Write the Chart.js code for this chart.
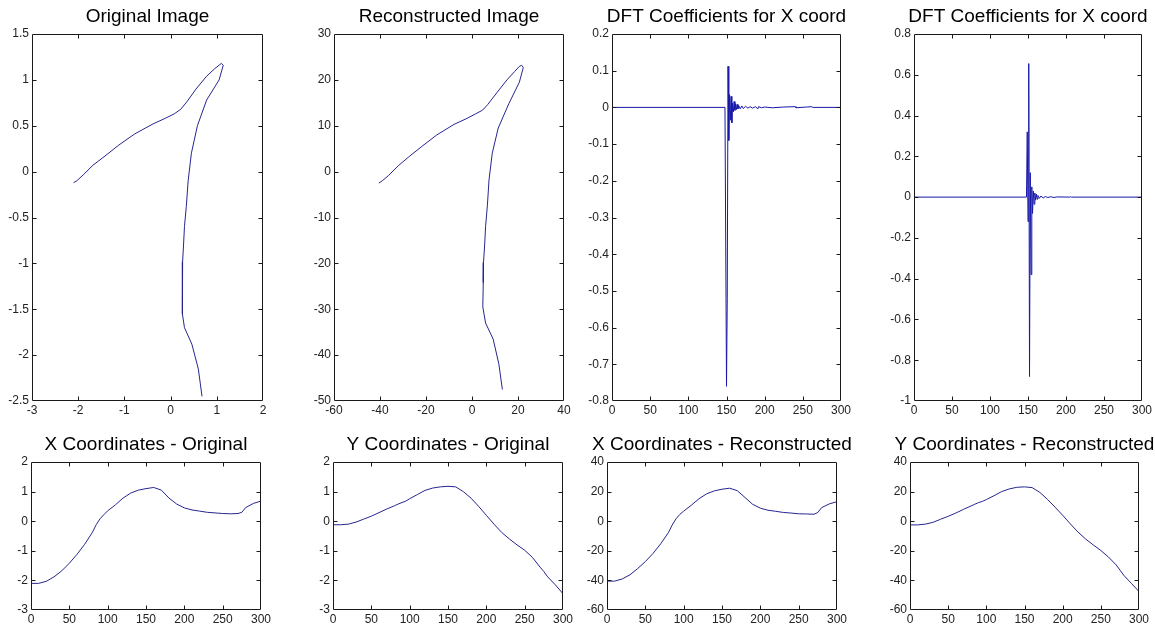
<!DOCTYPE html>
<html><head><meta charset="utf-8">
<script src="https://cdn.jsdelivr.net/npm/chart.js@4.4.1/dist/chart.umd.min.js"></script>
<style>
html,body{margin:0;padding:0;background:#fff;overflow:hidden;width:1155px;height:628px;position:relative;}
canvas{position:absolute;}
</style></head><body>
<script>
// ---- data ----
const t     = [0,10,20,30,40,50,60,70,80,85,90,95,100,110,120,130,140,150,160,170,180,190,200,210,220,230,240,250,260,270,275,280,290,300];
const xOrig = [-2.10,-2.10,-2.03,-1.88,-1.68,-1.42,-1.12,-0.78,-0.38,-0.12,0.08,0.22,0.35,0.55,0.78,0.95,1.05,1.10,1.14,1.05,0.78,0.58,0.45,0.38,0.34,0.30,0.28,0.26,0.25,0.26,0.30,0.46,0.60,0.68];
const yOrig = [-0.12,-0.12,-0.10,-0.03,0.07,0.17,0.29,0.41,0.52,0.58,0.63,0.68,0.76,0.90,1.04,1.12,1.16,1.18,1.16,1.00,0.78,0.50,0.20,-0.10,-0.38,-0.60,-0.80,-0.98,-1.22,-1.55,-1.70,-1.88,-2.15,-2.45];
const xRec  = [-40.5,-40.5,-39.0,-36.2,-32.0,-27.3,-21.8,-15.3,-7.8,-2.6,1.6,4.6,6.8,10.8,15.2,18.5,20.5,21.6,22.3,20.6,16.0,11.4,8.8,7.4,6.7,5.9,5.5,5.0,4.9,4.7,5.9,9.2,11.7,13.2];
const yRec  = [-2.5,-2.5,-2.0,-0.8,1.3,3.3,5.5,8.0,10.3,11.5,12.6,13.4,14.6,17.2,20.0,21.8,22.9,23.2,22.7,19.5,14.8,9.5,4.0,-1.8,-7.3,-12.0,-16.0,-19.8,-24.2,-29.5,-33.0,-36.5,-42.0,-47.5];
const dftXIdx = [0,148,149,150,151,152,153,154,155,156,157,158,159,160,161,162,163,164,165,166,168,170,172,175,178,181,184,188,191,192,196,200,210,225,240,241,255,262,263,300];
const dftXVal = [0,0,-0.38,-0.76,-0.52,0.112,-0.09,0.035,-0.035,0.03,-0.042,0.012,-0.012,0.016,-0.008,0.01,-0.006,0.008,-0.004,0.005,-0.004,0.004,-0.003,0.003,-0.002,0.002,-0.002,0.002,-0.004,0.002,-0.001,0.001,-0.001,0.001,0.002,-0.001,0.001,0.002,0,0];
const dftYIdx = [0,148,149,150,151,152,153,154,155,156,157,158,159,160,161,162,163,165,167,170,173,176,180,184,188,205,206,207,300];
const dftYVal = [0,0,0.32,-0.12,0.655,-0.88,0.12,-0.38,0.05,-0.08,0.03,-0.035,0.02,-0.015,0.015,-0.01,0.008,-0.006,0.005,-0.004,0.003,-0.002,0.002,-0.002,0.001,0,0.002,0,0];

// ---- tick labels ----
const ticksImgX  = [-3,-2,-1,0,1,2];
const ticksImgY  = [-2.5,-2,-1.5,-1,-0.5,0,0.5,1,1.5];
const ticksRecX  = [-60,-40,-20,0,20,40];
const ticksRecY  = [-50,-40,-30,-20,-10,0,10,20,30];
const ticksT     = [0,50,100,150,200,250,300];
const ticksDftX  = [-0.8,-0.7,-0.6,-0.5,-0.4,-0.3,-0.2,-0.1,0,0.1,0.2];
const ticksDftY  = [-1,-0.8,-0.6,-0.4,-0.2,0,0.2,0.4,0.6,0.8];
const ticksOrigC = [-3,-2,-1,0,1,2];
const ticksRecC  = [-60,-40,-20,0,20,40];

const titles = ['Original Image','Reconstructed Image','DFT Coefficients for X coord','DFT Coefficients for X coord',
  'X Coordinates - Original','Y Coordinates - Original','X Coordinates - Reconstructed','Y Coordinates - Reconstructed'];

const pairs = (a,b)=>a.map((v,i)=>({x:v,y:b[i]}));
const CURVE = '#25258f', DFT = '#1818a8';
const FONT = "'Liberation Sans', Arial, sans-serif";

const panels = [
  {rect:[32,34,263,401],  data:pairs(xOrig,yOrig), xt:ticksImgX, yt:ticksImgY, c:CURVE},
  {rect:[334,34,564,401], data:pairs(xRec,yRec),   xt:ticksRecX, yt:ticksRecY, c:CURVE},
  {rect:[612,34,841,401], data:pairs(dftXIdx,dftXVal), xt:ticksT, yt:ticksDftX, c:DFT},
  {rect:[914,34,1142,401],data:pairs(dftYIdx,dftYVal), xt:ticksT, yt:ticksDftY, c:DFT},
  {rect:[31,462,261,610], data:pairs(t,xOrig), xt:ticksT, yt:ticksOrigC, c:CURVE},
  {rect:[333,462,563,610],data:pairs(t,yOrig), xt:ticksT, yt:ticksOrigC, c:CURVE},
  {rect:[607,462,837,610],data:pairs(t,xRec),  xt:ticksT, yt:ticksRecC, c:CURVE},
  {rect:[910,462,1139,610],data:pairs(t,yRec), xt:ticksT, yt:ticksRecC, c:CURVE}
];

const fmt = v => String(Math.round(v*1000)/1000);

const boxPlugin = {
  id:'matlabBox',
  afterDatasetsDraw(chart){
    const {ctx, chartArea:a, scales} = chart;
    const x = scales.x, y = scales.y;
    ctx.save();
    ctx.strokeStyle = '#1a1a1a'; ctx.lineWidth = 1;
    const L = Math.round(a.left)+0.5, R = Math.round(a.right)-0.5, T = Math.round(a.top)+0.5, B = Math.round(a.bottom)-0.5;
    ctx.beginPath();
    ctx.rect(L,T,R-L,B-T);
    const tl = 4;
    x.ticks.forEach(tk=>{
      const p = Math.round(x.getPixelForValue(tk.value))+0.5;
      if (p<=L+1 || p>=R-1) return;
      ctx.moveTo(p,B); ctx.lineTo(p,B-tl);
      ctx.moveTo(p,T); ctx.lineTo(p,T+tl);
    });
    y.ticks.forEach(tk=>{
      const p = Math.round(y.getPixelForValue(tk.value))+0.5;
      if (p<=T+1 || p>=B-1) return;
      ctx.moveTo(L,p); ctx.lineTo(L+tl,p);
      ctx.moveTo(R,p); ctx.lineTo(R-tl,p);
    });
    ctx.stroke();
    ctx.restore();
  }
};

const YW = 40, TH = 34, XH = 22;
panels.forEach((p,i)=>{
  const [L,T,R,B] = p.rect;
  const cv = document.createElement('canvas');
  const w = (R-L) + 2*YW, h = (B-T) + TH + XH;
  cv.width = w; cv.height = h;
  cv.style.left = (L-YW)+'px'; cv.style.top = (T-TH)+'px';
  cv.style.width = w+'px'; cv.style.height = h+'px';
  document.body.appendChild(cv);
  const xMin = p.xt[0], xMax = p.xt[p.xt.length-1];
  const yMin = p.yt[0], yMax = p.yt[p.yt.length-1];
  const tickFont = {family:FONT, size:12};
  new Chart(cv.getContext('2d'), {
    type:'line',
    data:{datasets:[{data:p.data, borderColor:p.c, borderWidth:1, pointRadius:0, tension:0, fill:false}]},
    options:{
      responsive:false, animation:false, devicePixelRatio:1,
      layout:{padding:{left:0,right:0,top:0,bottom:0}},
      plugins:{
        legend:{display:false}, tooltip:{enabled:false},
        title:{display:true, text:titles[i], color:'#000', font:{family:FONT, size:19, weight:'normal'}, padding:{top:5.5,bottom:5.7}}
      },
      scales:{
        x:{type:'linear', min:xMin, max:xMax,
           afterBuildTicks:s=>{s.ticks = p.xt.map(v=>({value:v}));},
           afterFit:s=>{s.height = XH;},
           grid:{display:false, drawTicks:false}, border:{display:false},
           ticks:{padding:2, color:'#222', font:tickFont, maxRotation:0, autoSkip:false, callback:v=>fmt(v)}},
        y:{type:'linear', min:yMin, max:yMax, position:'left',
           afterBuildTicks:s=>{s.ticks = p.yt.map(v=>({value:v}));},
           afterFit:s=>{s.width = YW;},
           grid:{display:false, drawTicks:false}, border:{display:false},
           ticks:{padding:3, color:'#222', font:tickFont, autoSkip:false, callback:v=>fmt(v)}},
        y2:{type:'linear', min:yMin, max:yMax, position:'right',
           afterFit:s=>{s.width = YW;},
           grid:{display:false, drawTicks:false}, border:{display:false},
           ticks:{display:false}}
      }
    },
    plugins:[boxPlugin]
  });
});
</script>
</body></html>
